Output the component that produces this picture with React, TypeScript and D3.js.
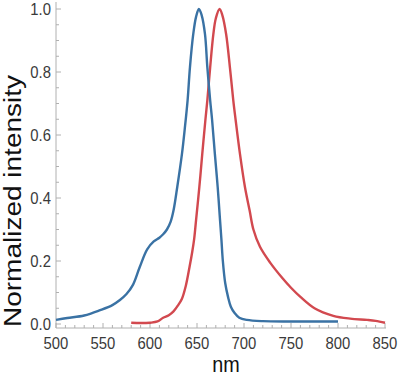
import React from "react";
import * as d3 from "d3";

const blueNm = [500, 512, 530, 547, 560, 568, 575, 582, 589, 597, 604, 610, 614, 618, 622, 625, 629, 634, 637, 640, 642.5, 646, 649, 652, 655, 658.5, 661, 664, 666, 669, 672, 674.5, 676, 677.5, 680, 683, 686, 690, 695, 703, 720, 750, 800];
const blueVal = [0.013, 0.019, 0.027, 0.044, 0.06, 0.076, 0.095, 0.125, 0.18, 0.237, 0.262, 0.274, 0.285, 0.3, 0.325, 0.36, 0.435, 0.54, 0.62, 0.71, 0.815, 0.92, 0.975, 1.0, 0.98, 0.92, 0.815, 0.71, 0.65, 0.54, 0.435, 0.33, 0.267, 0.2, 0.13, 0.086, 0.055, 0.035, 0.02, 0.013, 0.009, 0.008, 0.008];

const redNm = [580, 590, 600, 608, 614, 620, 625, 630, 634, 638, 642, 645, 647, 649, 652.5, 655.6, 659, 661, 664, 667.4, 670, 674, 677, 681, 685, 688.6, 691, 695.7, 701, 706, 710, 717, 728, 741, 750, 760, 775, 795, 813, 831, 840, 850];
const redVal = [0.004, 0.003, 0.004, 0.008, 0.02, 0.028, 0.04, 0.06, 0.08, 0.12, 0.18, 0.23, 0.27, 0.33, 0.435, 0.54, 0.65, 0.71, 0.815, 0.92, 0.97, 1.0, 0.98, 0.92, 0.815, 0.71, 0.65, 0.54, 0.435, 0.36, 0.3, 0.245, 0.194, 0.145, 0.115, 0.086, 0.05, 0.026, 0.017, 0.013, 0.01, 0.004];

const xMajor = [500, 550, 600, 650, 700, 750, 800, 850];
const yMajor = [0, 0.2, 0.4, 0.6, 0.8, 1.0];
const yLabels = ["0.0", "0.2", "0.4", "0.6", "0.8", "1.0"];

export default function App() {
  const W = 400, H = 378;
  const x = d3.scaleLinear().domain([500, 850]).range([56, 385]);
  const y = d3.scaleLinear().domain([0, 1]).range([324, 9]);
  const axisY = 328;
  const axisX = 56;

  const line = d3.line<[number, number]>()
    .x(d => x(d[0]))
    .y(d => y(d[1]))
    .curve(d3.curveCatmullRom.alpha(0.5));

  const blue = line(blueNm.map((n, i) => [n, blueVal[i]] as [number, number]));
  const red = line(redNm.map((n, i) => [n, redVal[i]] as [number, number]));

  const xMinor = d3.range(500, 851, 10);
  const yMinor = d3.range(0, 1.0001, 0.05);
  const font = "'Liberation Sans', Arial, sans-serif";
  const axisColor = "#b0b0b0";

  return (
    <svg width={W} height={H} style={{ position: "absolute", left: 0, top: 0, background: "#fff" }}>
      <line x1={axisX} x2={axisX} y1={2} y2={axisY} stroke={axisColor} strokeWidth={1} />
      <line x1={axisX} x2={386} y1={axisY} y2={axisY} stroke={axisColor} strokeWidth={1} />
      {xMinor.map(v => (
        <line key={"xm" + v} x1={x(v)} x2={x(v)} y1={axisY} y2={axisY - (v % 50 === 0 ? 5 : 3)} stroke={axisColor} />
      ))}
      {yMinor.map(v => (
        <line key={"ym" + v} x1={axisX} x2={axisX + (Math.abs(Math.round(v * 100) % 20) === 0 ? 5 : 3)} y1={y(v)} y2={y(v)} stroke={axisColor} />
      ))}
      {xMajor.map(v => (
        <text key={"xl" + v} transform={`translate(${x(v)},${349}) scale(0.9,1)`} textAnchor="middle"
          fontFamily={font} fontSize={16.5} fill="#3a3a3a">{v}</text>
      ))}
      {yMajor.map((v, i) => (
        <text key={"yl" + v} transform={`translate(${51},${y(v) + 6}) scale(0.9,1)`} textAnchor="end"
          fontFamily={font} fontSize={16.5} fill="#3a3a3a">{yLabels[i]}</text>
      ))}
      <text transform={`translate(226,372) scale(0.9,1)`} textAnchor="middle" fontFamily={font} fontSize={22} fill="#111">nm</text>
      <text transform={`translate(21,201) rotate(-90)`} textAnchor="middle" fontFamily={font} fontSize={23}
        textLength={252} lengthAdjust="spacingAndGlyphs" fill="#111">Normalized intensity</text>
      <path d={red || ""} fill="none" stroke="#d2494f" strokeWidth={2.4} strokeLinejoin="round" />
      <path d={blue || ""} fill="none" stroke="#3a72a4" strokeWidth={2.4} strokeLinejoin="round" />
    </svg>
  );
}
